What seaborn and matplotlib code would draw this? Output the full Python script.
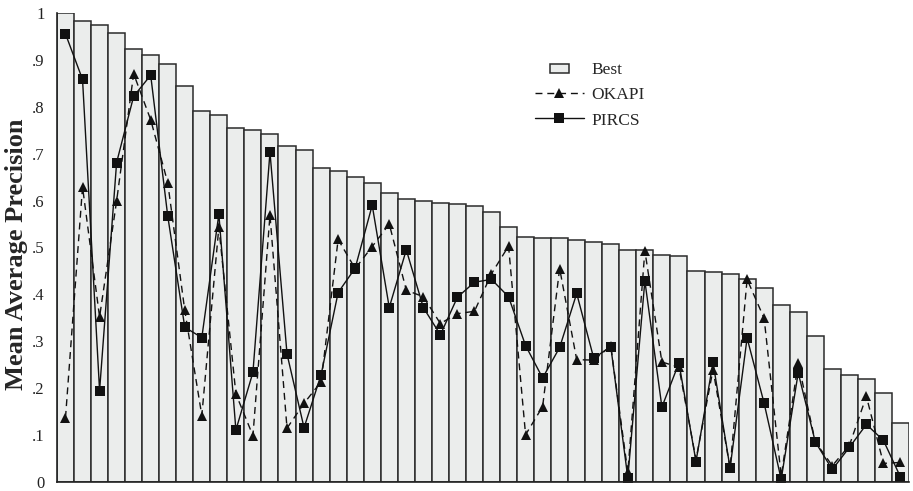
import numpy as np
import pandas as pd
import seaborn as sns
import matplotlib.pyplot as plt
from matplotlib.patches import Rectangle
from matplotlib.container import BarContainer
from matplotlib.legend_handler import HandlerPatch

# values (50 topics, sorted by best run)
best = [1.000, 0.983, 0.975, 0.957, 0.923, 0.911, 0.891, 0.844, 0.791, 0.782,
        0.755, 0.750, 0.742, 0.717, 0.707, 0.669, 0.662, 0.651, 0.638, 0.616,
        0.603, 0.600, 0.595, 0.592, 0.588, 0.576, 0.543, 0.522, 0.520, 0.520,
        0.515, 0.512, 0.507, 0.495, 0.495, 0.483, 0.481, 0.450, 0.448, 0.443,
        0.433, 0.414, 0.377, 0.363, 0.312, 0.242, 0.229, 0.219, 0.191, 0.125]
okapi = [0.137, 0.629, 0.352, 0.599, 0.870, 0.772, 0.638, 0.366, 0.142, 0.543,
         0.188, 0.099, 0.569, 0.115, 0.168, 0.214, 0.517, 0.455, 0.502, 0.550,
         0.409, 0.395, 0.338, 0.359, 0.364, 0.444, 0.503, 0.101, 0.161, 0.455,
         0.261, 0.260, 0.290, 0.021, 0.493, 0.256, 0.245, 0.048, 0.240, 0.030,
         0.432, 0.349, 0.013, 0.254, 0.086, 0.035, 0.078, 0.183, 0.040, 0.042]
pircs = [0.955, 0.858, 0.195, 0.681, 0.822, 0.867, 0.567, 0.330, 0.308, 0.571,
         0.111, 0.234, 0.703, 0.273, 0.116, 0.229, 0.404, 0.456, 0.590, 0.372,
         0.495, 0.372, 0.314, 0.394, 0.426, 0.432, 0.395, 0.291, 0.222, 0.287,
         0.402, 0.264, 0.289, 0.009, 0.429, 0.160, 0.254, 0.044, 0.255, 0.030,
         0.307, 0.168, 0.006, 0.233, 0.086, 0.027, 0.074, 0.123, 0.089, 0.011]
ytick_vals = [0, .1, .2, .3, .4, .5, .6, .7, .8, .9, 1]
ytick_labels = ["0", ".1", ".2", ".3", ".4", ".5", ".6", ".7", ".8", ".9", "1"]

df = pd.DataFrame({"topic": np.arange(len(best)), "Best": best,
                   "OKAPI": okapi, "PIRCS": pircs})

sns.set_style("white")
plt.rcParams["font.family"] = ["Liberation Serif", "DejaVu Serif"]

fig = plt.figure(figsize=(9.13, 4.91), dpi=100)
ax = fig.add_axes([0.0624, 0.018, 0.9332, 0.956])

sns.barplot(data=df, x="topic", y="Best", width=1.0, color="#ebedec",
            saturation=1, edgecolor="#2b2b2b", linewidth=1.1, label="Best", ax=ax)
sns.lineplot(data=df, x="topic", y="OKAPI", color="#111111", linewidth=1.0,
             linestyle=(0, (5, 3.5)), marker="^", markersize=6.8,
             markeredgewidth=0, label="OKAPI", ax=ax)
sns.lineplot(data=df, x="topic", y="PIRCS", color="#111111", linewidth=1.0,
             marker="s", markersize=6.8, markeredgewidth=0, label="PIRCS", ax=ax)

ax.set_xlim(-0.5, len(best) - 0.5)
ax.set_ylim(0, 1)
ax.set_xticks([])
ax.set_yticks(ytick_vals)
ax.set_yticklabels(ytick_labels, fontsize=12)
ax.tick_params(axis="y", length=0, pad=9, colors="#222222")
ax.set_xlabel("")
ax.set_ylabel("Mean Average Precision", fontsize=19, fontweight="bold")
ax.yaxis.set_label_coords(-0.034, 0.485)
sns.despine(ax=ax, top=True, right=True)
for side in ["left", "bottom"]:
    ax.spines[side].set_color("#222222")
    ax.spines[side].set_linewidth(1.2)


def small_box(legend, orig_handle, xdescent, ydescent, width, height, fontsize):
    w = width * 0.4
    return Rectangle((-xdescent + (width - w) / 2, -ydescent + height * 0.1), w, height * 0.75)


def copy_bar_style(legend_handle, orig_handle):
    legend_handle.update_from(orig_handle.patches[0])


handles, labels = ax.get_legend_handles_labels()
order = [labels.index(name) for name in ["Best", "OKAPI", "PIRCS"]]
ax.legend([handles[i] for i in order], [labels[i] for i in order],
          loc="upper left", bbox_to_anchor=(0.561, 0.895), borderaxespad=0,
          frameon=False, fontsize=12.5, handlelength=2.8, handletextpad=0.45,
          labelspacing=0.52, borderpad=0, numpoints=1,
          handler_map={BarContainer: HandlerPatch(patch_func=small_box,
                                                  update_func=copy_bar_style)})

plt.savefig("out.png", dpi=100)
